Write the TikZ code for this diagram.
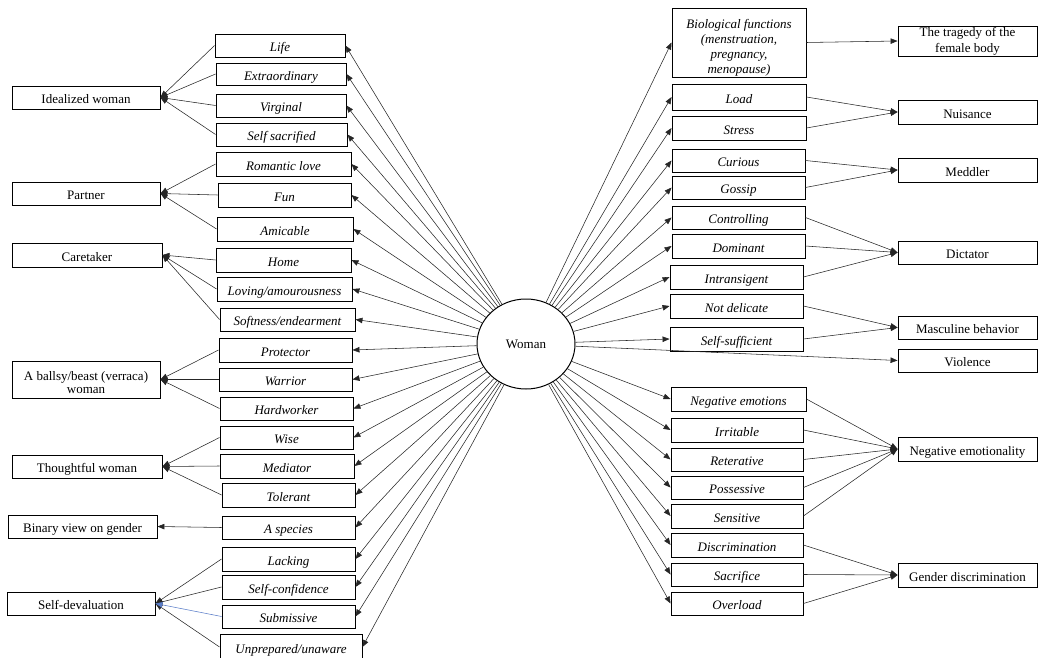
\documentclass[tikz,border=0pt]{standalone}
\usepackage{fontspec}
\setmainfont{Liberation Serif}
\usetikzlibrary{arrows.meta,shapes.geometric}
\definecolor{linkblue}{RGB}{90,125,200}
\tikzset{
  box/.style={draw, line width=0.9pt, inner sep=0pt,
    text height=12.5pt, text depth=0pt,
    font=\fontsize{13}{15}\selectfont},
  mid/.style={box, font=\fontsize{13}{15}\selectfont\itshape},
  link/.style={line width=0.55pt, draw=black!85,
    -{Triangle[length=7pt,width=5.5pt]}},
}
% box from its corners (x1,y1)-(x2,y2), in pixel units
\newcommand\bx[7]{\node[#1, minimum width={(#5)-(#3)}, minimum height={(#6)-(#4)}]
  (#2) at ({((#3)+(#5))/2},{((#4)+(#6))/2}) {#7};}
% several centred lines, aligned on the last baseline
\newcommand\lines[1]{\begin{tabular}[b]{@{}c@{}}#1\end{tabular}}
\begin{document}
\begin{tikzpicture}[x=1pt,y=-1pt]
\useasboundingbox (0,0) rectangle (1039,658);

% centre
\node[draw, line width=1pt, ellipse, minimum width=98, minimum height=90,
  inner sep=0pt, font=\fontsize{13}{15}\selectfont] (woman) at (526,344) {Woman};

% left categories
\bx{box}{ideal}{12}{86}{160}{109}{Idealized woman}
\bx{box}{partner}{12}{182}{160}{205}{Partner}
\bx{box}{care}{12}{243}{162}{267}{Caretaker}
\bx{box,text height=28pt}{ballsy}{12}{361}{160}{398}{\lines{A ballsy/beast (verraca)\\[-1.5pt]woman}}
\bx{box}{thought}{12}{455}{162}{478}{Thoughtful woman}
\bx{box}{binary}{8}{515}{157}{538}{Binary view on gender}
\bx{box}{selfdev}{7}{592}{155}{615}{Self-devaluation}

% left attributes
\bx{mid}{life}{215}{34}{345}{57}{Life}
\bx{mid}{extra}{216}{63}{346}{85}{Extraordinary}
\bx{mid}{virginal}{216}{94}{346}{117}{Virginal}
\bx{mid}{selfsac}{216}{123}{347}{146}{Self sacrified}
\bx{mid}{romantic}{216}{152}{351}{176}{Romantic love}
\bx{mid}{fun}{218}{183}{351}{207}{Fun}
\bx{mid}{amicable}{217}{217}{353}{241}{Amicable}
\bx{mid}{home}{216}{248}{351}{272}{Home}
\bx{mid}{loving}{217}{277}{352}{301}{Loving/amourousness}
\bx{mid}{softness}{220}{308}{355}{331}{Softness/endearment}
\bx{mid}{protector}{219}{338}{352}{362}{Protector}
\bx{mid}{warrior}{219}{368}{352}{391}{Warrior}
\bx{mid}{hard}{220}{397}{353}{420}{Hardworker}
\bx{mid}{wise}{220}{426}{353}{449}{Wise}
\bx{mid}{mediator}{220}{454}{354}{478}{Mediator}
\bx{mid}{tolerant}{222}{483}{355}{507}{Tolerant}
\bx{mid}{species}{222}{516}{355}{539}{A species}
\bx{mid}{lacking}{222}{547}{355}{571}{Lacking}
\bx{mid}{selfconf}{222}{575}{355}{599}{Self-confidence}
\bx{mid}{submissive}{222}{605}{355}{628}{Submissive}
\bx{mid}{unprep}{220}{634}{362}{660}{Unprepared/unaware}

% right attributes
\bx{mid,text height=62pt}{bio}{672}{8}{806}{77}{\lines{Biological functions\\(menstruation,\\pregnancy,\\menopause)}}
\bx{mid}{load}{672}{84}{806}{110}{Load}
\bx{mid}{stress}{672}{116}{806}{140}{Stress}
\bx{mid}{curious}{672}{149}{805}{172}{Curious}
\bx{mid}{gossip}{672}{176}{805}{199}{Gossip}
\bx{mid}{controlling}{672}{206}{805}{229}{Controlling}
\bx{mid}{dominant}{672}{234}{805}{258}{Dominant}
\bx{mid}{intrans}{670}{265}{803}{289}{Intransigent}
\bx{mid}{notdel}{670}{294}{803}{318}{Not delicate}
\bx{mid}{selfsuff}{670}{327}{803}{351}{Self-sufficient}
\bx{mid}{negemo}{671}{387}{806}{411}{Negative emotions}
\bx{mid}{irritable}{671}{418}{803}{442}{Irritable}
\bx{mid}{reterative}{671}{448}{803}{471}{Reterative}
\bx{mid}{possessive}{671}{476}{803}{499}{Possessive}
\bx{mid}{sensitive}{671}{504}{803}{528}{Sensitive}
\bx{mid}{discrim}{671}{533}{803}{557}{Discrimination}
\bx{mid}{sacrifice}{671}{563}{803}{586}{Sacrifice}
\bx{mid}{overload}{671}{592}{803}{615}{Overload}

% right categories
\bx{box,text height=23pt}{tragedy}{898}{26}{1037}{56}{\lines{The tragedy of the\\[0.5pt]female body}}
\bx{box}{nuisance}{898}{100}{1037}{124}{Nuisance}
\bx{box}{meddler}{898}{158}{1037}{182}{Meddler}
\bx{box}{dictator}{898}{241}{1037}{264}{Dictator}
\bx{box}{masculine}{898}{316}{1037}{339}{Masculine behavior}
\bx{box}{violence}{898}{349}{1037}{372}{Violence}
\bx{box}{negemoty}{898}{437}{1037}{461}{Negative emotionality}
\bx{box}{genderdis}{898}{563}{1037}{587}{Gender discrimination}

% centre to left attributes
\foreach \n in {life,extra,virginal,selfsac,romantic,fun,amicable,home,loving,
  softness,protector,warrior,hard,wise,mediator,tolerant,species,lacking,
  selfconf,submissive,unprep}
  \draw[link] (woman) -- (\n.east);

% centre to right attributes
\foreach \n in {bio,load,stress,curious,gossip,controlling,dominant,intrans,
  notdel,selfsuff,negemo,irritable,reterative,possessive,sensitive,discrim,
  sacrifice,overload,violence}
  \draw[link] (woman) -- (\n.west);

% left attributes to categories
\foreach \n in {life,extra,virginal,selfsac} \draw[link] (\n.west) -- (ideal.east);
\foreach \n in {romantic,fun,amicable} \draw[link] (\n.west) -- (partner.east);
\foreach \n in {home,loving,softness} \draw[link] (\n.west) -- (care.east);
\foreach \n in {protector,warrior,hard} \draw[link] (\n.west) -- (ballsy.east);
\foreach \n in {wise,mediator,tolerant} \draw[link] (\n.west) -- (thought.east);
\draw[link] (species.west) -- (binary.east);
\foreach \n in {lacking,selfconf,unprep} \draw[link] (\n.west) -- (selfdev.east);
\draw[link, draw=linkblue] (submissive.west) -- (selfdev.east);

% right attributes to categories
\draw[link] (bio.east) -- (tragedy.west);
\foreach \n in {load,stress} \draw[link] (\n.east) -- (nuisance.west);
\foreach \n in {curious,gossip} \draw[link] (\n.east) -- (meddler.west);
\foreach \n in {controlling,dominant,intrans} \draw[link] (\n.east) -- (dictator.west);
\foreach \n in {notdel,selfsuff} \draw[link] (\n.east) -- (masculine.west);
\foreach \n in {negemo,irritable,reterative,possessive,sensitive} \draw[link] (\n.east) -- (negemoty.west);
\foreach \n in {discrim,sacrifice,overload} \draw[link] (\n.east) -- (genderdis.west);
\end{tikzpicture}
\end{document}
